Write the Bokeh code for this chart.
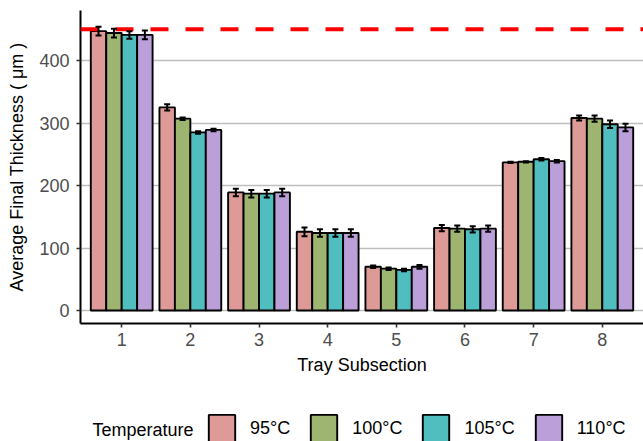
from bokeh.plotting import figure
from bokeh.layouts import column
from bokeh.models import (ColumnDataSource, Span, Whisker, TeeHead, FixedTicker,
                          Legend, LegendItem, Label)
from bokeh.embed import file_html
from bokeh.resources import INLINE

# Average final thickness (µm) per tray subsection and drying temperature
subsections = [1, 2, 3, 4, 5, 6, 7, 8]
temperatures = ["95°C", "100°C", "105°C", "110°C"]

mean_95 = [447, 325, 189, 126, 70, 132, 237, 308]
mean_100 = [444, 307, 187, 124, 67, 131, 238, 307]
mean_105 = [441, 285, 187, 124, 65, 130, 242, 298]
mean_110 = [441, 289, 189, 124, 70, 131, 239, 293]

err_95 = [7, 5, 6, 7, 2, 5, 1, 4]
err_100 = [7, 2, 6, 6, 2, 5, 1, 5]
err_105 = [6, 2, 6, 6, 2, 5, 2, 6]
err_110 = [7, 2, 6, 6, 3, 5, 2, 6]

target_thickness = 450

means = [mean_95, mean_100, mean_105, mean_110]
errors = [err_95, err_100, err_105, err_110]
colors = ["#DD9A96", "#9DB570", "#50BDBE", "#BB9FD9"]

FONT = "Liberation Sans"
W = 643
MAIN_H = 383
LEGEND_H = 58
LEFT = 80
group_width = 0.9
bar_width = group_width / len(temperatures)

p = figure(width=W, height=MAIN_H, x_range=(0.4, 8.6), y_range=(-20.8, 480),
           output_backend="svg", toolbar_location=None,
           min_border_left=LEFT, min_border_right=0, min_border_top=10,
           min_border_bottom=60)
p.outline_line_color = None

# horizontal grid only
p.xgrid.grid_line_color = None
p.ygrid.grid_line_color = "#BEBEBE"
p.ygrid.grid_line_width = 1.7

bar_style = dict(line_color="black", line_width=1.9)
sources = []

for i, (m, e, c) in enumerate(zip(means, errors, colors)):
    offset = -group_width / 2 + bar_width * (i + 0.5)
    src = ColumnDataSource(dict(
        x=[s + offset for s in subsections],
        top=m,
        upper=[v + d for v, d in zip(m, e)],
        lower=[v - d for v, d in zip(m, e)],
    ))
    sources.append(src)
    p.vbar(x="x", top="top", bottom=0, width=bar_width, source=src,
           fill_color=c, **bar_style)
    p.add_layout(Whisker(source=src, base="x", upper="upper", lower="lower",
                         line_color="black", line_width=2, level="overlay",
                         upper_head=TeeHead(size=6, line_width=2, line_color="black"),
                         lower_head=TeeHead(size=6, line_width=2, line_color="black")))

p.add_layout(Span(location=target_thickness, dimension="width",
                  line_color="red", line_width=4, line_dash="18 17"))

# axes
for ax in (p.xaxis[0], p.yaxis[0]):
    ax.axis_line_color = "black"
    ax.axis_line_width = 2
    ax.major_tick_line_color = "#333333"
    ax.major_tick_line_width = 1.6
    ax.major_tick_out = 4
    ax.major_tick_in = 0
    ax.minor_tick_line_color = None
    ax.major_label_text_font = FONT
    ax.major_label_text_font_size = "18px"
    ax.major_label_text_color = "#4D4D4D"
    ax.axis_label_text_font = FONT
    ax.axis_label_text_font_size = "18px"
    ax.axis_label_text_font_style = "normal"
    ax.axis_label_text_color = "black"

p.xaxis.ticker = FixedTicker(ticks=subsections)
p.yaxis.ticker = FixedTicker(ticks=[0, 100, 200, 300, 400])
p.xaxis.axis_label = "Tray Subsection"
p.yaxis.axis_label = "Average Final Thickness ( μm )"
p.xaxis.major_label_standoff = 5
p.xaxis.axis_label_standoff = 6
p.yaxis.major_label_standoff = 7
p.yaxis.axis_label_standoff = 9

# legend strip below the chart (its frame lines up with the chart's frame,
# so the x range is given in page pixels)
leg = figure(width=W, height=LEGEND_H, x_range=(LEFT, W), y_range=(0, LEGEND_H),
             output_backend="svg", toolbar_location=None,
             min_border_left=0, min_border_right=0,
             min_border_top=0, min_border_bottom=0)
leg.axis.visible = False
leg.grid.grid_line_color = None
leg.outline_line_color = None

items = []
for temp, c, src in zip(temperatures, colors, sources):
    # hidden copy of each series, used only for its legend key
    r = leg.vbar(x="x", top="top", bottom=0, width=bar_width, source=src,
                 fill_color=c, visible=False, **bar_style)
    items.append(LegendItem(label=temp, renderers=[r]))

legend = Legend(items=items, location=(205 - LEFT, -4), orientation="horizontal",
                glyph_width=33, glyph_height=34, label_standoff=12, spacing=17,
                padding=0, margin=0, border_line_color=None,
                background_fill_alpha=0, inactive_fill_alpha=0,
                label_text_font=FONT, label_text_font_size="18px",
                label_text_color="black")
leg.add_layout(legend)
leg.add_layout(Label(x=92, y=12, text="Temperature", text_font=FONT,
                     text_font_size="18px", text_color="black",
                     text_baseline="middle", text_align="left"))

open("out.html", "w").write(file_html(column(p, leg, spacing=0), INLINE))
